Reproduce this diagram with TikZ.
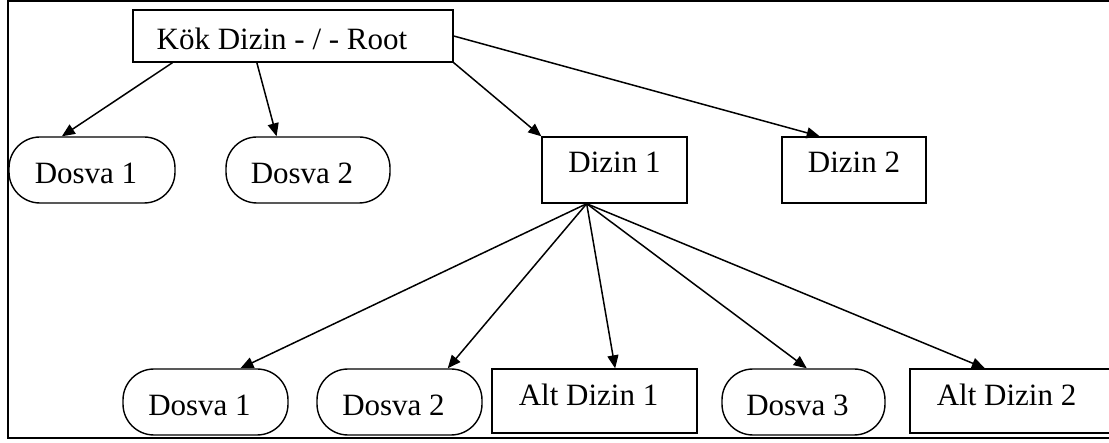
\documentclass[tikz,border=0pt]{standalone}
\usepackage{fontspec}
\setmainfont{Liberation Serif}
\usetikzlibrary{arrows.meta,calc}

\tikzset{
  dirbox/.style={draw=black, line width=1.4pt, rectangle, inner sep=0pt,
    font=\fontsize{31}{34}\selectfont, text height=13pt, text depth=7pt},
  filebox/.style={dirbox, rounded corners=31pt, text height=28pt, text depth=0pt},
  link/.style={draw=black, line width=1.5pt,
    -{Triangle[length=13pt,width=11pt]}},
}
% text of the file nodes sits a little left of centre
\newcommand{\leftish}[2][12pt]{#2\hspace*{#1}}

\begin{document}
\begin{tikzpicture}[x=1pt, y=-1pt]
  \useasboundingbox (0,0) rectangle (1109,443);
  \begin{scope}
    \clip (0,0) rectangle (1109,443);
    % outer frame
    \draw[line width=2pt] (8,1) rectangle (1130,438);

    % root
    \node[dirbox, text height=27pt, text depth=0pt, minimum width=320pt, minimum height=52pt] (root) at (293,36) {\leftish[22pt]{Kök Dizin - / - Root}};

    % first level
    \node[filebox, minimum width=166pt, minimum height=66pt] (f1) at (92,170) {\leftish{Dosva 1}};
    \node[filebox, minimum width=164pt, minimum height=66pt] (f2) at (308,170) {\leftish{Dosva 2}};
    \node[dirbox, minimum width=145pt, minimum height=66pt] (d1) at (614.5,170) {Dizin 1};
    \node[dirbox, minimum width=144pt, minimum height=66pt] (d2) at (854,170) {Dizin 2};

    % second level
    \node[filebox, minimum width=165pt, minimum height=66pt] (g1) at (205.5,402) {\leftish{Dosva 1}};
    \node[filebox, minimum width=165pt, minimum height=66pt] (g2) at (399.5,402) {\leftish{Dosva 2}};
    \node[dirbox, text height=16pt, minimum width=205pt, minimum height=64pt] (a1) at (594.5,401) {\leftish{Alt Dizin 1}};
    \node[filebox, minimum width=163pt, minimum height=66pt] (g3) at (803.5,402) {\leftish{Dosva 3}};
    \node[dirbox, text height=16pt, minimum width=205pt, minimum height=64pt] (a2) at (1012.5,401) {\leftish{Alt Dizin 2}};

    % connectors from the root
    \draw[link] ($(root.south west)!.125!(root.south east)$) -- ($(f1.north west)!.32!(f1.north east)$);
    \draw[link] ($(root.south west)!.3875!(root.south east)$) -- ($(f2.north west)!.31!(f2.north east)$);
    \draw[link] (root.south east) -- (d1.north west);
    \draw[link] (root.east) -- ($(d2.north west)!.264!(d2.north east)$);

    % connectors from Dizin 1
    \coordinate (fan) at ($(d1.south west)!.31!(d1.south east)$);
    \draw[link] (fan) -- ($(g1.north west)!.71!(g1.north east)$);
    \draw[link] (fan) -- ($(g2.north west)!.79!(g2.north east)$);
    \draw[link] (fan) -- ($(a1.north west)!.6!(a1.north east)$);
    \draw[link] (fan) -- ($(g3.north west)!.52!(g3.north east)$);
    \draw[link] (fan) -- ($(a2.north west)!.366!(a2.north east)$);
  \end{scope}
\end{tikzpicture}
\end{document}
